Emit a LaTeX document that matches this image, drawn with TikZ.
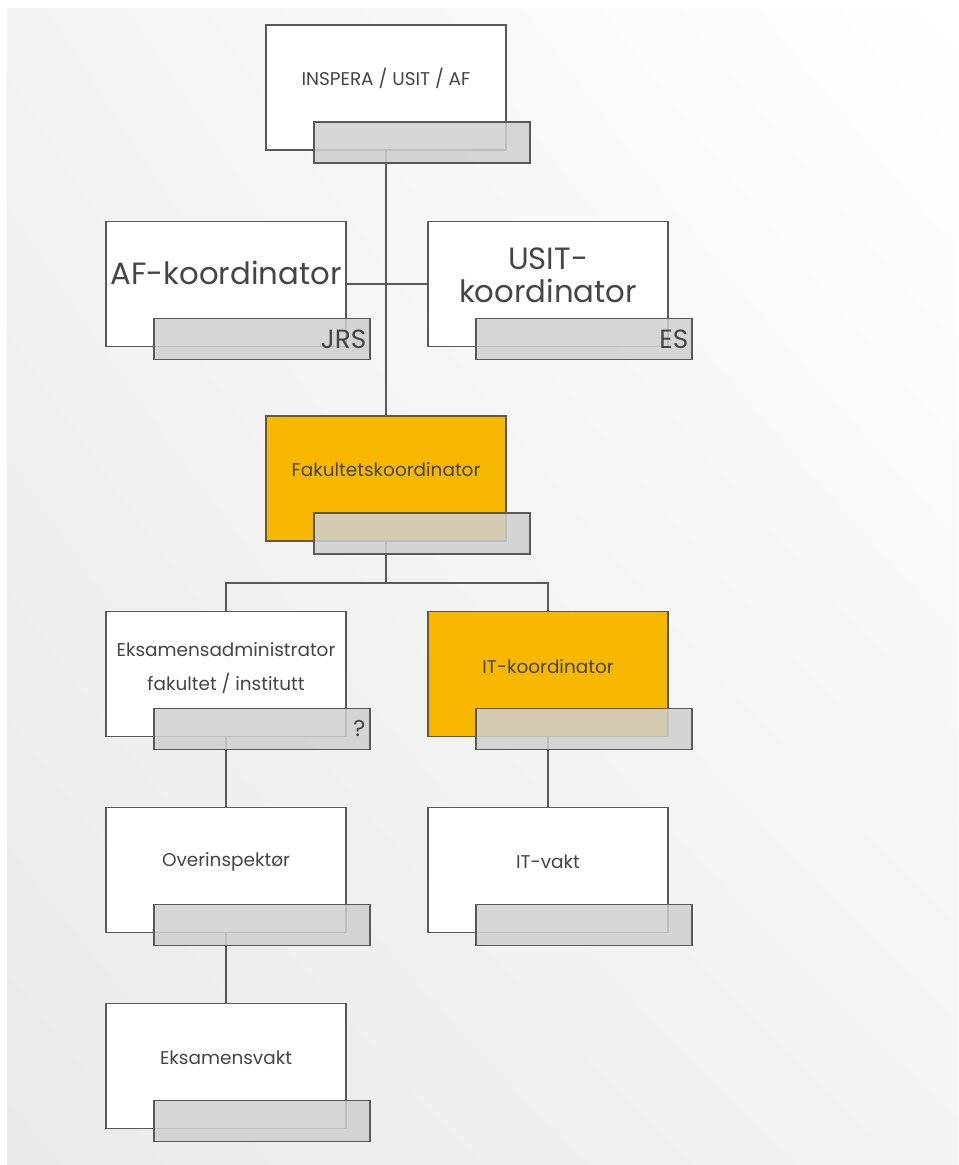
\documentclass[tikz,border=0pt]{standalone}
\usepackage{fontspec}
\setmainfont{Poppins}
\usetikzlibrary{shadings}
\definecolor{boxline}{HTML}{595959}
\definecolor{orgfill}{HTML}{F9B800}
\definecolor{tabfill}{HTML}{CFCFCF}
\definecolor{txtgray}{HTML}{454545}
\definecolor{bgdark}{HTML}{EAEAEA}
\definecolor{bgmid}{HTML}{F3F3F3}
\begin{document}
\begin{tikzpicture}[
  x=0.02cm, y=-0.02cm,
  box/.style={draw=boxline, line width=0.8pt, fill=white,
    minimum width=4.8cm, minimum height=2.5cm, inner sep=0pt},
  orgbox/.style={box, fill=orgfill},
  tab/.style={draw=boxline, line width=0.8pt, fill=tabfill, fill opacity=0.85,
    minimum width=4.32cm, minimum height=0.82cm, inner sep=0pt},
  txt/.style={text=txtgray, font=\fontsize{10.5}{19}\selectfont, align=center},
  bigtxt/.style={text=txtgray, font=\fontsize{17.5}{19}\selectfont, align=center},
  sigtxt/.style={text=txtgray, font=\fontsize{15}{17}\selectfont, inner sep=0pt},
  link/.style={draw=boxline, line width=0.8pt}
]
\useasboundingbox (0,0) rectangle (958,1165);

% Background
\shade[upper left=bgmid, upper right=white, lower left=bgdark, lower right=bgmid]
  (7,9) rectangle (958,1165);

% Boxes
\node[box] (insp) at (386,87.5) {};
\node[box] (af) at (226,284) {};
\node[box] (usit) at (548,284) {};
\node[orgbox] (fak) at (386,478.5) {};
\node[box] (eksadm) at (226,674) {};
\node[orgbox] (itko) at (548,674) {};
\node[box] (overinsp) at (226,870) {};
\node[box] (itvakt) at (548,870) {};
\node[box] (eksvakt) at (226,1066) {};

% Links
\coordinate (split) at (386,583);
\draw[link] (insp.south) -- (fak.north);
\draw[link] (af.east) -- (usit.west);
\draw[link] (fak.south) -- (split) -| (eksadm.north);
\draw[link] (split) -| (itko.north);
\draw[link] (eksadm.south) -- (overinsp.north);
\draw[link] (overinsp.south) -- (eksvakt.north);
\draw[link] (itko.south) -- (itvakt.north);

% Name tabs
\foreach \n in {insp,af,usit,fak,eksadm,itko,overinsp,itvakt,eksvakt} {
  \node[tab, anchor=south east] (\n-tab) at ([shift={(24,13)}]\n.south east) {};
}

% Texts
\node[txt] (insp-t) at ([yshift=0.18cm]insp.center) {INSPERA / USIT / AF};
\node[bigtxt] (af-t) at ([yshift=0.22cm]af.center) {AF-koordinator};
\node[bigtxt] (usit-t) at ([yshift=0.18cm]usit.center) {USIT-\\koordinator};
\node[txt] (fak-t) at ([yshift=0.17cm]fak.center) {Fakultetskoordinator};
\node[txt] (eksadm-t) at ([yshift=0.12cm]eksadm.center) {Eksamensadministrator\\fakultet / institutt};
\node[txt] (itko-t) at ([yshift=0.14cm]itko.center) {IT-koordinator};
\node[txt] (overinsp-t) at ([yshift=0.16cm]overinsp.center) {Overinspektør};
\node[txt] (itvakt-t) at ([yshift=0.16cm]itvakt.center) {IT-vakt};
\node[txt] (eksvakt-t) at ([yshift=0.16cm]eksvakt.center) {Eksamensvakt};

% Signatures
\node[sigtxt, anchor=east] (af-sig) at ([xshift=-0.08cm]af-tab.east) {JRS};
\node[sigtxt, anchor=east] (usit-sig) at ([xshift=-0.08cm]usit-tab.east) {ES};
\node[sigtxt, anchor=east, font=\fontsize{13}{15}\selectfont] (eksadm-sig) at ([xshift=-0.1cm]eksadm-tab.east) {?};

\end{tikzpicture}
\end{document}
